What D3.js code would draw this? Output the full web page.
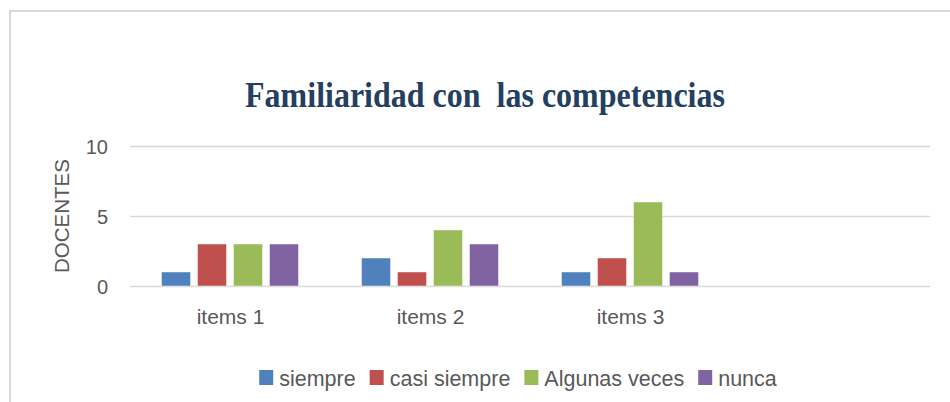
<!DOCTYPE html>
<html>
<head>
<meta charset="utf-8">
<script src="https://cdn.jsdelivr.net/npm/d3@7"></script>
<style>
  body { margin: 0; background: #fff; }
  svg text { font-family: "Liberation Sans", Arial, sans-serif; fill: #595959; }
</style>
</head>
<body>
<div id="chart"></div>
<script>
// data
const categories = ["items 1", "items 2", "items 3", ""];
const seriesNames = ["siempre", "casi siempre", "Algunas veces", "nunca"];
const siempre = [1, 2, 1, null];
const casiSiempre = [3, 1, 2, null];
const algunasVeces = [3, 4, 6, null];
const nunca = [3, 3, 1, null];
const yTicks = [0, 5, 10];
const colors = ["#4F81BD", "#C0504D", "#9BBB59", "#8064A2"];

const seriesValues = [siempre, casiSiempre, algunasVeces, nunca];

const W = 950, H = 402;
const margin = { top: 146, left: 130, right: 20, bottom: 116 };
const width = W - margin.left - margin.right,
    height = H - margin.top - margin.bottom;

const svg = d3.select("#chart")
    .append("svg")
    .attr("width", W)
    .attr("height", H);

// outer frame
svg.append("rect")
    .attr("x", 10).attr("y", 11)
    .attr("width", W + 20).attr("height", H + 20)
    .attr("fill", "none")
    .attr("stroke", "#d9d9d9")
    .attr("stroke-width", 2);

// title (original font is a bit taller, so stretch it a little)
svg.append("text")
    .attr("transform", "translate(485,107) scale(1,1.12)")
    .attr("text-anchor", "middle")
    .style("white-space", "pre")
    .style("font-family", "'Liberation Serif', 'Times New Roman', serif")
    .style("font-weight", "bold")
    .style("font-size", "32px")
    .style("fill", "#243F60")
    .text("Familiaridad con  las competencias");

const g = svg.append("g")
    .attr("transform", `translate(${margin.left},${margin.top})`);

const x0 = d3.scaleBand()
    .domain(categories)
    .range([0, width])
    .paddingInner(0.315)
    .paddingOuter(0.1575);

const x1 = d3.scaleBand()
    .domain(seriesNames)
    .range([0, x0.bandwidth()])
    .paddingInner(0.194);

const y = d3.scaleLinear()
    .domain([0, 10])
    .range([height, 0]);

// gridlines + y labels
const yAxis = g.append("g")
    .call(d3.axisLeft(y).tickValues(yTicks).tickSize(-width).tickPadding(22));
yAxis.select(".domain").remove();
yAxis.selectAll(".tick line")
    .attr("stroke", "#d9d9d9")
    .attr("stroke-width", 1.5);
yAxis.selectAll(".tick text")
    .style("font-size", "20px")
    .attr("dy", "0.36em");

// x labels
const xAxis = g.append("g")
    .attr("transform", `translate(0,${height})`)
    .call(d3.axisBottom(d3.scalePoint().domain(categories).range([0, width]).padding(0.5))
        .tickSize(0).tickPadding(23));
xAxis.select(".domain").remove();
xAxis.selectAll(".tick text")
    .style("font-size", "21px")
    .attr("dy", "0.71em");

// bars
const rows = categories.map((c, i) => ({
    cat: c,
    vals: seriesNames.map((s, j) => ({ s: s, v: seriesValues[j][i], c: colors[j] }))
}));

g.selectAll(".grp")
    .data(rows)
    .join("g")
    .attr("transform", d => `translate(${x0(d.cat)},0)`)
    .selectAll("rect")
    .data(d => d.vals.filter(e => e.v != null))
    .join("rect")
    .attr("x", d => x1(d.s))
    .attr("y", d => y(d.v))
    .attr("width", x1.bandwidth())
    .attr("height", d => y(0) - y(d.v))
    .attr("fill", d => d.c)
    .attr("stroke", "#ffffff")
    .attr("stroke-opacity", 0.45)
    .attr("stroke-width", 1);

// y title
svg.append("text")
    .attr("transform", "translate(69,216) rotate(-90)")
    .attr("text-anchor", "middle")
    .style("font-size", "20.5px")
    .text("DOCENTES");

// legend
const legend = svg.append("g");
let lx = 0;
seriesNames.forEach((s, i) => {
    const item = legend.append("g").attr("transform", `translate(${lx},0)`);
    item.append("rect")
        .attr("x", 0).attr("y", 370)
        .attr("width", 14).attr("height", 15)
        .attr("fill", colors[i]);
    const t = item.append("text")
        .attr("x", 20).attr("y", 386)
        .style("font-size", "21.5px")
        .text(s);
    lx += 20 + t.node().getComputedTextLength() + 14;
});
const legendW = lx - 14;
legend.attr("transform", `translate(${518 - legendW / 2},0)`);
</script>
</body>
</html>
